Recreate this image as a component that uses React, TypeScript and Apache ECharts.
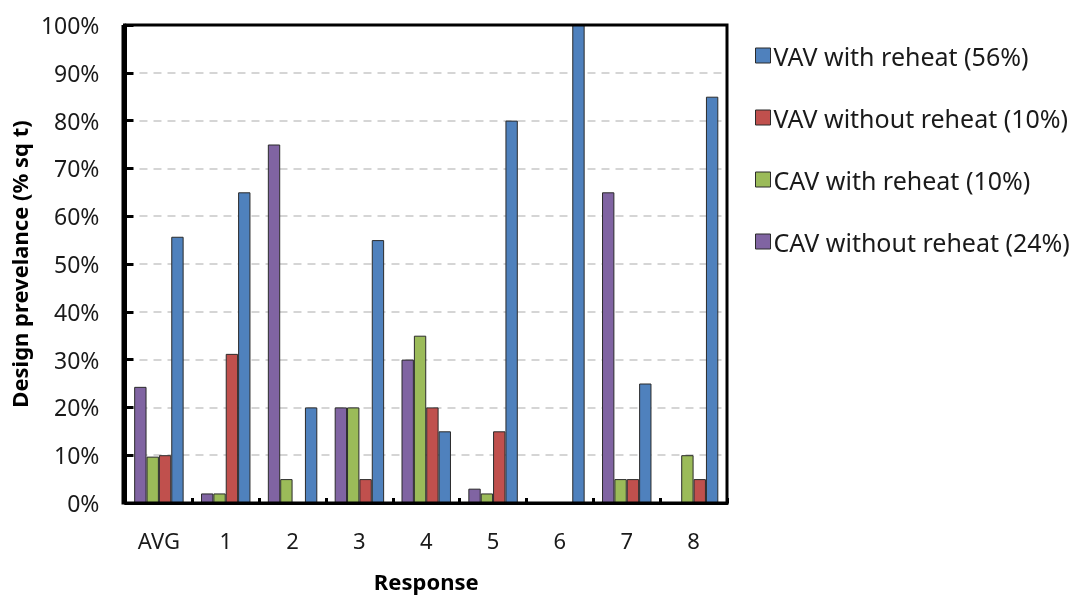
import React, { useEffect, useRef } from "react";
import * as echarts from "echarts";

const categories = ["AVG", "1", "2", "3", "4", "5", "6", "7", "8"];
const cavWithoutReheat = [24.3, 2, 75, 20, 30, 3, 0, 65, 0];
const cavWithReheat = [9.7, 2, 5, 20, 35, 2, 0, 5, 10];
const vavWithoutReheat = [10, 31.2, 0, 5, 20, 15, 0, 5, 5];
const vavWithReheat = [55.7, 65, 20, 55, 15, 80, 100, 25, 85];
const yTicks = [0, 10, 20, 30, 40, 50, 60, 70, 80, 90, 100];

const FONT = "'Noto Sans', sans-serif";

const GRID = { left: 123, right: 349, top: 25, bottom: 94 };

export default function App() {
  const ref = useRef<HTMLDivElement>(null);
  useEffect(() => {
    if (!ref.current) return;
    const chart = echarts.init(ref.current, null, { renderer: "svg" });
    const mk = (name: string, data: number[], color: string) => ({
      name,
      type: "bar",
      data: data.map((v) => (v === 0 ? null : v)),
      barGap: "0%",
      barCategoryGap: "26%",
      itemStyle: { color, borderColor: "#2b2b2b", borderWidth: 1 },
    });
    const w = 1076 - GRID.left - GRID.right;
    const h = 597 - GRID.top - GRID.bottom;
    chart.setOption({
      animation: false,
      textStyle: { fontFamily: FONT },
      grid: { ...GRID },
      graphic: [
        {
          type: "polyline",
          z: 100,
          shape: {
            points: [
              [GRID.left, GRID.top],
              [GRID.left + w, GRID.top],
              [GRID.left + w, GRID.top + h],
              [GRID.left, GRID.top + h],
              [GRID.left, GRID.top],
            ],
          },
          style: { fill: null, stroke: "#000", lineWidth: 3 },
        },
      ],
      legend: {
        orient: "vertical",
        left: 750,
        top: 38,
        itemGap: 37,
        itemWidth: 15,
        itemHeight: 15,
        icon: "rect",
        data: [
          "VAV with reheat (56%)",
          "VAV without reheat (10%)",
          "CAV with reheat (10%)",
          "CAV without reheat (24%)",
        ],
        textStyle: { fontSize: 25, color: "#1a1a1a", fontFamily: FONT, padding: [0, 0, 0, -2] },
        itemStyle: { borderColor: "#2b2b2b", borderWidth: 1 },
      },
      xAxis: {
        type: "category",
        data: categories,
        name: "Response",
        nameLocation: "middle",
        nameGap: 67,
        nameTextStyle: { fontSize: 22, fontWeight: "bold", color: "#000", fontFamily: FONT },
        axisLine: { lineStyle: { color: "#000", width: 3 } },
        axisTick: { show: true, inside: true, length: 5, lineStyle: { color: "#000", width: 3 } },
        axisLabel: { fontSize: 22, color: "#1a1a1a", margin: 26 },
      },
      yAxis: {
        type: "value",
        min: yTicks[0],
        max: yTicks[yTicks.length - 1],
        interval: 10,
        name: "Design prevelance (% sq t)",
        nameLocation: "middle",
        nameGap: 95,
        nameTextStyle: { fontSize: 22, fontWeight: "bold", color: "#000", fontFamily: FONT },
        axisLine: { show: true, lineStyle: { color: "#000", width: 3 } },
        axisTick: { show: true, inside: true, length: 8, lineStyle: { color: "#000", width: 3 } },
        axisLabel: { fontSize: 23, color: "#1a1a1a", margin: 26, formatter: "{value}%" },
        splitLine: { show: true, lineStyle: { color: "#c8c8c8", type: [8, 6], width: 1.5 } },
      },
      series: [
        mk("CAV without reheat (24%)", cavWithoutReheat, "#8064a2"),
        mk("CAV with reheat (10%)", cavWithReheat, "#9bbb59"),
        mk("VAV without reheat (10%)", vavWithoutReheat, "#c0504d"),
        mk("VAV with reheat (56%)", vavWithReheat, "#4f81bd"),
      ],
    });
    return () => chart.dispose();
  }, []);
  return (
    <div
      ref={ref}
      style={{ position: "fixed", left: 0, top: 0, width: 1076, height: 597 }}
    />
  );
}
